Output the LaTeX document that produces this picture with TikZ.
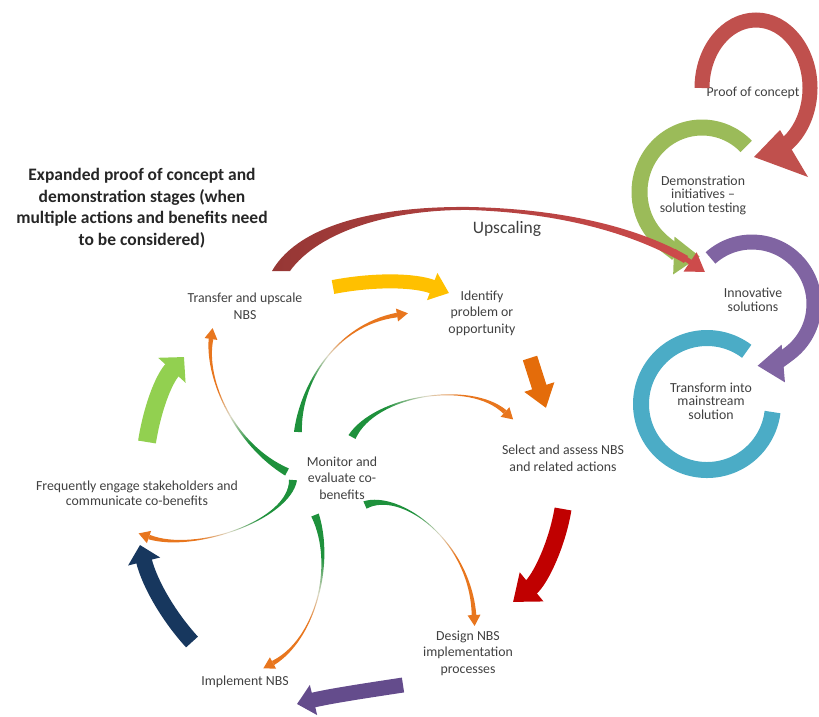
\documentclass[tikz,border=0pt]{standalone}
\usepackage{fontspec}
\setmainfont{Carlito}
\usetikzlibrary{arrows.meta,calc}
\definecolor{txtgray}{RGB}{64,64,64}
\definecolor{ttlgray}{RGB}{38,38,38}
\definecolor{ringred}{RGB}{192,80,77}
\definecolor{ringgreen}{RGB}{155,187,89}
\definecolor{ringpurple}{RGB}{128,100,162}
\definecolor{ringcyan}{RGB}{75,172,198}
\definecolor{upsdark}{RGB}{150,55,53}
\definecolor{upsred}{RGB}{205,75,75}
\definecolor{cycyellow}{RGB}{255,192,0}
\definecolor{cycorange}{RGB}{228,108,10}
\definecolor{cycred}{RGB}{192,0,0}
\definecolor{cycpurple}{RGB}{100,76,140}
\definecolor{cycnavy}{RGB}{23,55,94}
\definecolor{cycgreen}{RGB}{146,208,80}
\definecolor{spgreen}{RGB}{30,145,60}
\definecolor{sporange}{RGB}{232,118,30}
\definecolor{spmid}{RGB}{222,218,200}
\pgfdeclareverticalshading{spokeshade}{100bp}{color(0bp)=(spgreen); color(36bp)=(spgreen); color(50bp)=(spmid); color(62bp)=(sporange); color(100bp)=(sporange)}
\newcommand{\spoke}[5]{%
  \shade[shading=spokeshade, shading angle=#5]
    ($(#1)!4pt!90:(#2)$) .. controls (#2) and (#3) .. ($(#4)!2.3pt!-90:(#3)$)
    -- ($(#4)!2.3pt!90:(#3)$) .. controls (#3) and (#2) .. ($(#1)!4pt!-90:(#2)$) -- cycle;
  \fill[sporange] ($(#4)!6.5pt!90:(#3)$) -- ($(#4)!-11pt!(#3)$) -- ($(#4)!6.5pt!-90:(#3)$) -- cycle;}
\begin{document}
\begin{tikzpicture}[x=1pt, y=-1pt,
    lbl/.style={font=\fontsize{13.8}{16.5}\selectfont, text=txtgray, align=center, inner sep=0pt},
    rlbl/.style={font=\fontsize{13.8}{13.5}\selectfont, text=txtgray, align=center, inner sep=0pt},
    ttl/.style={font=\fontsize{17.5}{21.5}\selectfont\bfseries, text=ttlgray, align=center, inner sep=0pt},
    ring/.style={line width=15pt},
    ringtip/.style={-{Triangle[width=36pt,length=26pt]}},
    cyc/.style={line width=15pt}]
		\useasboundingbox (0,0) rectangle (819,716);

		\node[ttl] (title) at (142,208) {Expanded proof of concept and\\demonstration stages (when\\multiple actions and benefits need\\to be considered)};
		\node[lbl, font=\fontsize{17.5}{20}\selectfont] (upscaling) at (507,229) {Upscaling};
		\node[lbl] (transfer) at (245,306) {Transfer and upscale\\NBS};
		\node[lbl] (identify) at (482,313) {Identify\\problem or\\opportunity};
		\node[lbl] (select) at (563,458) {Select and assess NBS\\and related actions};
		\node[lbl] (design) at (468,653) {Design NBS\\implementation\\processes};
		\node[lbl] (implement) at (245,682) {Implement NBS};
		\node[lbl, font=\fontsize{13.8}{15}\selectfont] (engage) at (137,493) {Frequently engage stakeholders and\\communicate co-benefits};
		\node[lbl] (monitor) at (342,478) {Monitor and\\evaluate co-\\benefits};
		\node[rlbl] (proof) at (753,93) {Proof of concept};
		\node[rlbl] (demo) at (703,195) {Demonstration\\initiatives --\\solution testing};
		\node[rlbl] (innov) at (753,300) {Innovative\\solutions};
		\node[rlbl] (mainstream) at (711,401) {Transform into\\mainstream\\solution};

		\draw[ring, ringcyan, line width=16pt] (707,404) ++(-53:66) arc[start angle=-53, end angle=-353, radius=66];
		\draw[ring, ringpurple, ringtip] (752,304) ++(228:62) arc[start angle=228, end angle=445, radius=62];
		\draw[ring, ringgreen, line width=16pt, ringtip] (702,192) ++(-45:62.5 and 64.5) arc[start angle=-45, end angle=-268, x radius=62.5, y radius=64.5];
		\draw[ring, ringred] (756,88) ++(180:54 and 68) arc[start angle=180, end angle=418, x radius=54, y radius=68];
		\fill[ringred] (780,130) -- (754,157) -- (808,177) -- cycle;

		\coordinate (u1) at (272,271);
		\coordinate (u2) at (290,271);
		\coordinate (ut) at (705,272);
		\shade[left color=upsdark, right color=upsred]
		  (u1) .. controls (300,222) and (385,206) .. (470,207)
		  .. controls (560,209) and (635,226) .. (688,256)
		  -- (684,263) .. controls (632,233) and (560,213) .. (470,210)
		  .. controls (390,209) and (318,232) .. (u2) -- cycle;
		\draw[upsred, line width=5pt, -{Triangle[width=22pt,length=18pt]}] (674,251) -- (ut);

		\coordinate (y1) at (333,287);
		\coordinate (y2) at (449,293);
		\draw[cyc, line width=14pt, cycyellow, -{Triangle[width=28pt,length=18pt]}] (y1) .. controls (375,279) and (415,280) .. (y2);
		\coordinate (o1) at (530,358);
		\coordinate (o2) at (546,408);
		\draw[cyc, cycorange, -{Triangle[width=30pt,length=22pt]}] (o1) -- (o2);
		\coordinate (r1) at (563,509);
		\coordinate (r2) at (513,602);
		\draw[cyc, line width=17pt, cycred, -{Triangle[width=36pt,length=24pt]}] (r1) .. controls (557,545) and (540,580) .. (r2);
		\coordinate (p1) at (403,685);
		\coordinate (p2) at (297,704);
		\draw[cyc, cycpurple, -{Triangle[width=30pt,length=17pt]}] (p1) .. controls (370,690) and (330,696) .. (p2);
		\coordinate (n1) at (192,642);
		\coordinate (n2) at (140,545);
		\draw[cyc, line width=16pt, cycnavy, -{Triangle[width=32pt,length=17pt]}] (n1) .. controls (170,618) and (150,585) .. (n2);
		\coordinate (g1) at (147,442);
		\coordinate (g2) at (184,357);
		\draw[cyc, line width=18pt, cycgreen, -{Triangle[width=36pt,length=18pt]}] (g1) .. controls (152,410) and (163,380) .. (g2);

		\coordinate (sa) at (287,472);
		\coordinate (ea) at (211,339);
		\spoke{sa}{235,445}{205,380}{ea}{27}
		\coordinate (sb) at (298,432);
		\coordinate (eb) at (397,315);
		\spoke{sb}{300,385}{335,325}{eb}{-43}
		\coordinate (sc) at (352,437);
		\coordinate (ec) at (505,412);
		\spoke{sc}{375,395}{470,380}{ec}{-84}
		\coordinate (sd) at (365,505);
		\coordinate (ed) at (474,615);
		\spoke{sd}{400,490}{470,540}{ed}{-137}
		\coordinate (se) at (315,515);
		\coordinate (ee) at (273,663);
		\spoke{se}{335,565}{315,640}{ee}{161}
		\coordinate (sf) at (293,480);
		\coordinate (ef) at (149,537);
		\spoke{sf}{290,520}{195,553}{ef}{109}
\end{tikzpicture}
\end{document}
